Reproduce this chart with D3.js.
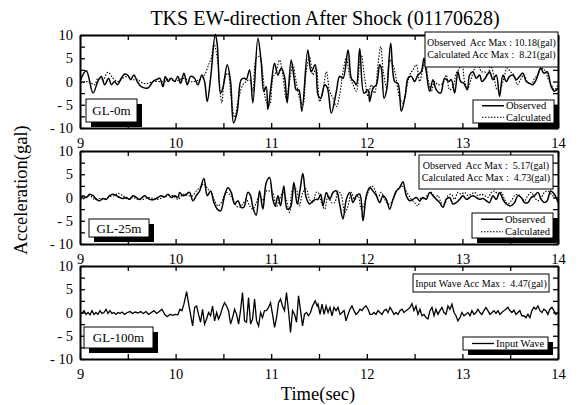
<!DOCTYPE html>
<html>
<head>
<meta charset="utf-8">
<script src="https://cdn.jsdelivr.net/npm/d3@7"></script>
<style>
  body { margin: 0; background: #fff; }
  svg { font-family: "Liberation Serif", "DejaVu Serif", serif; }
</style>
</head>
<body>
<div id="chart-area"></div>
<script>
// tick labels
const xTicks = [9, 10, 11, 12, 13, 14];
const yTicks = [-10, -5, 0, 5, 10];

// panel names and maxima
const depths = ["GL-0m", "GL-25m", "GL-100m"];
const obsMax = [10.18, 5.17];
const calMax = [8.21, 4.73];
const inputMax = 4.47;

// GL-0m observed [time(sec), acc(gal)]
const obs0 = [[9.000,0],[9.066,2.3],[9.136,-2.5],[9.188,0.1],[9.223,1.1],[9.258,-0.7],[9.300,0.7],[9.328,-0.7],[9.362,0],[9.390,-0.7],[9.432,0.7],[9.467,1.6],[9.502,1.3],[9.530,0.4],[9.564,1.4],[9.599,0],[9.641,-1.1],[9.711,-1.4],[9.763,0],[9.798,0.4],[9.833,0.7],[9.868,-1.1],[9.892,1.1],[9.920,0],[9.955,0.7],[9.990,0],[10.024,1.1],[10.052,-0.4],[10.087,1.8],[10.122,-0.7],[10.157,1.1],[10.199,0.7],[10.233,-0.7],[10.275,1.4],[10.303,0],[10.331,-4.3],[10.366,0.7],[10.415,10.18],[10.436,7.9],[10.470,-2.5],[10.495,-1.4],[10.540,3.6],[10.575,0],[10.606,-8.9],[10.645,-6.4],[10.686,0.4],[10.721,0.7],[10.739,0.4],[10.774,2.5],[10.808,-4.6],[10.861,9.3],[10.895,4.3],[10.923,-2.1],[10.948,-1.1],[10.965,-6.0],[11.000,-0.7],[11.035,3.9],[11.070,1.4],[11.105,2.9],[11.139,1.1],[11.167,-4.6],[11.209,4.6],[11.244,0],[11.261,-1.8],[11.289,-1.8],[11.321,-6.4],[11.383,6.8],[11.418,2.1],[11.460,3.6],[11.490,-2.9],[11.518,-3.6],[11.560,-0.7],[11.588,-1.4],[11.629,-6.8],[11.682,-2.1],[11.716,1.1],[11.751,0.7],[11.804,6.8],[11.838,0.7],[11.866,0],[11.891,-0.7],[11.926,7.1],[11.971,-2.5],[12.013,-1.8],[12.030,-4.3],[12.065,-1.4],[12.100,-0.7],[12.135,3.6],[12.152,2.9],[12.180,-3.6],[12.208,-1.8],[12.250,8.2],[12.291,0],[12.326,-0.4],[12.361,-6.4],[12.403,-2.9],[12.431,0.7],[12.466,1.1],[12.500,0],[12.535,1.4],[12.570,2.1],[12.598,5.0],[12.622,2.1],[12.657,-2.1],[12.692,0.4],[12.727,-1.8],[12.772,-2.5],[12.814,0.7],[12.856,0],[12.884,0.4],[12.919,-2.5],[12.953,2.1],[12.981,0],[13.016,-0.4],[13.051,-1.8],[13.075,1.4],[13.110,2.1],[13.145,0.7],[13.180,1.4],[13.204,0],[13.239,0.7],[13.284,2.1],[13.319,0.4],[13.354,1.4],[13.389,-3.2],[13.424,1.4],[13.459,0],[13.493,1.1],[13.528,1.4],[13.563,0.4],[13.598,1.1],[13.633,1.8],[13.668,0],[13.703,-0.4],[13.737,-0.7],[13.772,0.4],[13.818,2.9],[13.852,1.8],[13.887,2.1],[13.929,-1.1],[13.964,-2.1],[14.000,-1.4]];

// GL-0m calculated
const cal0 = [[9.000,-0.4],[9.084,0],[9.153,-0.7],[9.188,0.7],[9.240,0.4],[9.293,2.0],[9.345,0.7],[9.397,0],[9.449,0.7],[9.502,1.1],[9.554,0.4],[9.606,0.4],[9.659,-0.4],[9.711,-0.4],[9.763,0],[9.815,0],[9.885,0],[9.937,0.7],[9.990,0],[10.042,0.4],[10.094,0.7],[10.146,0],[10.199,0],[10.251,0.4],[10.303,1.4],[10.345,3.6],[10.373,5.0],[10.401,8.21],[10.436,5.0],[10.484,-4.6],[10.512,0.7],[10.547,1.8],[10.582,-3.6],[10.617,-7.7],[10.659,-3.6],[10.704,-0.7],[10.739,0],[10.774,0.4],[10.808,-2.1],[10.843,5.0],[10.878,5.4],[10.913,1.4],[10.948,-4.3],[10.983,-5.0],[11.017,0.7],[11.052,2.1],[11.087,4.6],[11.122,1.4],[11.157,-3.6],[11.192,0],[11.226,3.6],[11.261,0],[11.296,-3.6],[11.331,-5.0],[11.366,2.1],[11.401,5.4],[11.436,1.4],[11.470,2.9],[11.507,-4.3],[11.542,-1.8],[11.577,2.1],[11.612,-2.1],[11.647,-3.6],[11.682,-5.4],[11.716,-2.9],[11.751,2.1],[11.786,5.0],[11.821,1.1],[11.856,-0.7],[11.891,-2.1],[11.926,4.3],[11.943,5.7],[11.978,0.7],[12.013,-3.2],[12.047,-0.7],[12.082,-2.5],[12.117,3.6],[12.145,7.5],[12.173,2.1],[12.208,-1.4],[12.239,4.6],[12.274,3.6],[12.309,0.4],[12.344,-3.6],[12.379,-4.6],[12.413,-1.8],[12.448,1.4],[12.483,2.5],[12.518,3.6],[12.553,0],[12.588,2.9],[12.612,4.3],[12.640,0.7],[12.675,-2.1],[12.710,0],[12.744,-0.7],[12.797,-0.4],[12.831,1.4],[12.866,-1.8],[12.901,-1.1],[12.936,1.8],[12.971,2.9],[12.995,5.0],[13.023,0],[13.058,-1.4],[13.093,0.7],[13.128,2.9],[13.162,4.3],[13.197,2.1],[13.232,2.1],[13.267,1.4],[13.295,3.6],[13.330,1.1],[13.365,-1.8],[13.399,-1.4],[13.434,0.7],[13.469,2.9],[13.504,2.1],[13.539,1.4],[13.574,-0.7],[13.608,0.4],[13.643,1.4],[13.678,0],[13.720,-0.7],[13.755,0.7],[13.790,1.4],[13.824,2.9],[13.859,2.5],[13.894,0.7],[13.929,-0.7],[13.964,-1.8],[14.000,-0.7]];

// GL-25m observed
const obs25 = [[9.000,-0.2],[9.031,0.4],[9.066,0],[9.101,0.7],[9.136,0.4],[9.171,-0.4],[9.206,-0.7],[9.240,-0.2],[9.275,-0.4],[9.310,0.4],[9.345,0.7],[9.380,0.4],[9.415,0],[9.449,-0.2],[9.484,0],[9.519,-0.4],[9.554,0.4],[9.589,0],[9.624,-0.4],[9.676,0.4],[9.711,-0.2],[9.746,-0.5],[9.780,-0.4],[9.815,0],[9.850,0.4],[9.885,0.1],[9.920,0.7],[9.955,0],[9.990,0.4],[10.024,0],[10.042,1.1],[10.077,0.4],[10.111,0.7],[10.146,1.1],[10.181,-0.7],[10.216,0.4],[10.251,1.4],[10.296,4.1],[10.331,0.4],[10.366,1.4],[10.401,-1.1],[10.436,-2.5],[10.470,-2.9],[10.512,0.4],[10.547,2.1],[10.582,1.1],[10.617,-1.4],[10.652,-0.7],[10.686,-2.1],[10.714,-2.1],[10.756,1.1],[10.784,0.4],[10.808,-2.1],[10.843,-3.8],[10.878,1.4],[10.913,-2.5],[10.948,3.2],[10.983,4.3],[11.017,-0.4],[11.042,-1.8],[11.070,0.4],[11.098,-1.8],[11.132,2.5],[11.167,-2.5],[11.202,-2.1],[11.237,3.2],[11.272,-1.4],[11.303,1.8],[11.331,5.17],[11.366,0],[11.401,-1.4],[11.436,-0.7],[11.470,-0.4],[11.490,-0.4],[11.518,0.7],[11.542,-1.8],[11.577,1.1],[11.612,-0.4],[11.647,1.1],[11.682,1.4],[11.716,-1.4],[11.751,-4.6],[11.786,-0.4],[11.821,1.1],[11.856,-1.1],[11.891,0.4],[11.926,0.7],[11.960,-5.0],[11.995,0.4],[12.030,2.1],[12.065,1.4],[12.100,0.4],[12.135,-1.1],[12.169,0.4],[12.204,-0.4],[12.239,-2.5],[12.274,-0.4],[12.309,1.4],[12.344,2.1],[12.378,3.4],[12.413,0.4],[12.448,-0.7],[12.483,-0.4],[12.518,0],[12.553,-0.7],[12.588,0],[12.622,-0.4],[12.657,1.1],[12.692,0.4],[12.727,-0.4],[12.762,-1.1],[12.797,-2.1],[12.831,-0.4],[12.866,0],[12.901,-1.4],[12.936,-1.1],[12.971,-0.4],[13.006,0.4],[13.041,-0.4],[13.075,0],[13.110,0.4],[13.145,0],[13.180,-0.4],[13.215,-0.2],[13.250,-0.7],[13.284,-1.1],[13.319,0.4],[13.354,-0.4],[13.389,1.1],[13.424,-0.4],[13.459,-1.4],[13.504,-1.8],[13.546,-1.1],[13.581,0.4],[13.615,0],[13.650,-1.1],[13.685,-1.1],[13.720,0],[13.755,0.4],[13.790,1.1],[13.824,-0.4],[13.859,-1.1],[13.887,-0.7],[13.922,1.4],[13.946,1.1],[13.981,0],[14.000,-1.1]];

// GL-25m calculated
const cal25 = [[9.000,-0.4],[9.049,-0.2],[9.101,0.4],[9.153,-0.4],[9.206,-0.2],[9.258,-0.4],[9.310,0.2],[9.362,0.4],[9.397,0.9],[9.449,0.4],[9.502,-0.4],[9.554,0],[9.606,-0.4],[9.659,-0.4],[9.711,0],[9.763,-0.2],[9.815,-0.4],[9.868,0],[9.920,0.4],[9.972,0.4],[10.024,-0.4],[10.077,0.7],[10.129,0.4],[10.181,0.4],[10.216,1.4],[10.251,2.1],[10.296,2.9],[10.338,1.8],[10.373,1.1],[10.408,-0.7],[10.443,-1.8],[10.477,-1.1],[10.530,1.1],[10.564,0.7],[10.599,-0.4],[10.634,-1.8],[10.669,-2.1],[10.704,-1.4],[10.739,-0.4],[10.774,-1.8],[10.808,-2.5],[10.843,-1.1],[10.878,0.4],[10.913,-0.7],[10.948,1.4],[10.983,1.4],[11.017,1.1],[11.052,-2.1],[11.087,-0.4],[11.122,1.1],[11.157,-0.4],[11.192,-3.2],[11.226,1.8],[11.261,1.8],[11.296,-1.8],[11.331,1.1],[11.366,1.8],[11.401,-0.4],[11.436,-1.1],[11.470,1.1],[11.490,1.1],[11.525,-1.1],[11.560,-2.5],[11.595,0.4],[11.629,-1.1],[11.664,-1.1],[11.699,1.4],[11.734,0.4],[11.769,-3.2],[11.804,-1.8],[11.838,1.1],[11.873,-0.4],[11.908,0.4],[11.943,-2.5],[11.978,-1.1],[12.013,1.1],[12.047,2.5],[12.082,1.8],[12.117,0],[12.152,1.1],[12.187,-0.4],[12.222,-1.4],[12.257,-1.1],[12.291,0.4],[12.326,1.8],[12.361,2.5],[12.396,1.8],[12.431,0.7],[12.466,-0.4],[12.500,-1.1],[12.535,-1.8],[12.570,0],[12.605,-0.4],[12.640,0.7],[12.675,1.1],[12.710,0],[12.744,0.4],[12.779,-1.1],[12.814,-1.4],[12.849,0.4],[12.884,0.7],[12.919,-0.4],[12.953,1.1],[12.988,0.7],[13.023,1.1],[13.058,0.4],[13.093,0.7],[13.128,1.1],[13.162,0.4],[13.197,0.7],[13.232,0.4],[13.267,0],[13.302,1.1],[13.337,1.4],[13.372,0.7],[13.406,1.1],[13.441,-0.4],[13.476,-1.4],[13.511,-0.7],[13.546,0.4],[13.581,0.7],[13.615,0],[13.650,-0.7],[13.685,0.4],[13.720,1.1],[13.755,0],[13.790,-0.7],[13.824,0],[13.859,1.1],[13.894,1.4],[13.929,0.7],[13.964,0],[14.000,-0.7]];

// GL-100m input wave
const input100 = [[9.000,0],[9.021,-0.2],[9.042,0.4],[9.063,-0.4],[9.084,0],[9.105,-0.5],[9.125,0.4],[9.146,-0.4],[9.167,0],[9.188,-0.4],[9.209,0.4],[9.230,-0.2],[9.251,0],[9.272,0.7],[9.293,-0.2],[9.314,0.4],[9.334,-0.2],[9.355,0],[9.376,-0.4],[9.397,0],[9.418,-0.2],[9.439,0.1],[9.467,-0.4],[9.495,0],[9.523,0.2],[9.551,-0.2],[9.578,0.1],[9.606,-0.1],[9.634,0.2],[9.662,-0.2],[9.690,0.2],[9.718,-0.4],[9.746,0],[9.774,0.4],[9.801,-0.2],[9.829,0.2],[9.857,0.7],[9.885,-0.4],[9.913,-0.9],[9.941,-0.4],[9.969,-0.6],[9.997,-0.4],[10.024,-0.5],[10.045,0.7],[10.066,0.4],[10.087,1.8],[10.115,4.47],[10.143,1.1],[10.178,-2.9],[10.199,1.1],[10.220,1.4],[10.240,-0.4],[10.261,-2.1],[10.282,0.7],[10.303,-2.5],[10.324,-1.4],[10.345,0],[10.366,-0.7],[10.387,1.4],[10.408,-1.8],[10.429,0],[10.449,-1.4],[10.470,-0.4],[10.491,1.1],[10.512,2.1],[10.533,1.4],[10.554,0.4],[10.575,-2.5],[10.596,-1.1],[10.617,0.7],[10.638,-0.4],[10.659,-2.5],[10.679,0.4],[10.700,4.3],[10.721,-1.8],[10.742,-2.1],[10.763,3.2],[10.784,-2.5],[10.805,-1.4],[10.826,2.9],[10.847,-1.8],[10.868,-2.9],[10.889,0],[10.909,-1.1],[10.930,0.4],[10.951,0.4],[10.972,1.1],[10.993,2.1],[11.014,-0.4],[11.035,-3.2],[11.056,-1.1],[11.077,2.1],[11.098,2.9],[11.118,1.4],[11.139,0.4],[11.160,4.3],[11.181,0.4],[11.202,-4.3],[11.223,0.4],[11.244,-0.4],[11.265,-2.1],[11.286,3.6],[11.307,0.4],[11.328,-2.9],[11.348,-0.4],[11.369,0],[11.390,-0.7],[11.411,0],[11.432,1.4],[11.460,2.5],[11.481,1.4],[11.490,1.8],[11.511,-0.4],[11.532,1.8],[11.553,-0.4],[11.574,1.4],[11.595,0],[11.615,1.1],[11.636,-0.7],[11.657,1.1],[11.678,0.4],[11.699,1.1],[11.720,-0.4],[11.741,0],[11.762,0.4],[11.783,-1.8],[11.804,-0.4],[11.824,0.7],[11.845,1.4],[11.866,0.4],[11.887,-0.4],[11.908,0],[11.929,0.7],[11.950,0.4],[11.971,1.1],[11.992,1.4],[12.013,0.7],[12.034,-0.4],[12.054,-0.4],[12.075,0],[12.096,-0.4],[12.117,0.4],[12.138,0],[12.159,-0.4],[12.180,0.4],[12.201,0.7],[12.222,0],[12.243,1.1],[12.264,0.4],[12.284,-0.4],[12.305,0],[12.326,-0.4],[12.347,0.4],[12.368,0.7],[12.389,0],[12.410,0.4],[12.431,0.7],[12.452,1.1],[12.473,1.9],[12.493,0.4],[12.514,1.4],[12.535,-0.4],[12.556,0.7],[12.577,-0.7],[12.598,-0.4],[12.619,-1.1],[12.640,-1.4],[12.661,0.4],[12.682,1.1],[12.703,-0.7],[12.723,0.7],[12.744,-0.4],[12.765,0.4],[12.786,1.1],[12.807,0],[12.828,-0.4],[12.849,1.4],[12.870,0.7],[12.891,1.8],[12.912,0],[12.933,-0.7],[12.953,-1.8],[12.974,-1.1],[12.995,0],[13.016,-0.7],[13.037,-0.4],[13.058,0],[13.079,-0.7],[13.100,0.4],[13.121,-0.4],[13.142,0],[13.162,0.7],[13.183,0],[13.204,-0.4],[13.225,0.4],[13.246,1.1],[13.267,0.4],[13.288,-0.4],[13.309,0],[13.330,0.4],[13.351,-0.2],[13.372,0.4],[13.392,-0.4],[13.413,0],[13.434,0.4],[13.455,0.7],[13.476,1.1],[13.497,0.4],[13.518,0],[13.539,0.5],[13.560,-0.4],[13.581,0],[13.601,0.4],[13.622,-0.7],[13.643,-0.7],[13.664,-1.1],[13.685,-0.4],[13.706,-1.1],[13.727,0.4],[13.748,1.1],[13.769,0.7],[13.790,1.4],[13.811,0.4],[13.832,0],[13.852,0.7],[13.873,0.4],[13.894,-0.4],[13.915,0.7],[13.936,1.1],[13.957,0.4],[13.978,-0.4],[14.000,0]];

const W = 578, H = 405;
const left = 80, right = 558, panelH = 93;
const tops = [35, 151, 266];

const svg = d3.select("#chart-area")
  .append("svg")
    .attr("width", W)
    .attr("height", H);

const x = d3.scaleLinear().domain([9, 14]).range([left, right]);
const halfTicks = d3.range(9, 14.01, 0.5);
const quarterTicks = d3.range(-10, 10.01, 2.5);

const fmtY = d => (d < 0 ? "- " + Math.abs(d) : String(d));

// title and axis labels
svg.append("text")
  .attr("x", 325).attr("y", 25)
  .attr("text-anchor", "middle")
  .attr("font-size", "20px")
  .text("TKS EW-direction After Shock (01170628)");

svg.append("text")
  .attr("transform", "translate(27,190) rotate(-90)")
  .attr("text-anchor", "middle")
  .attr("font-size", "18.5px")
  .text("Acceleration(gal)");

svg.append("text")
  .attr("x", 318).attr("y", 400)
  .attr("text-anchor", "middle")
  .attr("font-size", "18.5px")
  .text("Time(sec)");

const panels = [
  { series: [{ d: obs0, dash: null, w: 1.5 }, { d: cal0, dash: "1.5,1.5", w: 1.1 }], curve: d3.curveCatmullRom,
    info: ["Observed  Acc Max : " + obsMax[0].toFixed(2) + "(gal)", "Calculated Acc Max :  " + calMax[0].toFixed(2) + "(gal)"],
    infoBox: [425, 32, 133, 35], gl: [86, 99, 51, 23], leg: [473, 100, 81, 23] },
  { series: [{ d: obs25, dash: null, w: 1.5 }, { d: cal25, dash: "1.5,1.5", w: 1.1 }], curve: d3.curveCatmullRom,
    info: ["Observed  Acc Max :  " + obsMax[1].toFixed(2) + "(gal)", "Calculated Acc Max :  " + calMax[1].toFixed(2) + "(gal)"],
    infoBox: [419, 155, 134, 34], gl: [89, 219, 60, 18], leg: [472, 213, 81, 25] },
  { series: [{ d: input100, dash: null, w: 1.3 }], curve: d3.curveLinear,
    info: ["Input Wave Acc Max :  " + inputMax.toFixed(2) + "(gal)"],
    infoBox: [413, 274, 136, 18], gl: [84, 327, 69, 21], leg: [463, 337, 85, 13] }
];
const legNames = [["Observed", "Calculated"], ["Observed", "Calculated"], ["Input Wave"]];

panels.forEach((p, i) => {
  const top = tops[i], bottom = top + panelH;
  const y = d3.scaleLinear().domain([-10, 10]).range([bottom, top]);
  const g = svg.append("g").attr("class", "panel");

  g.append("clipPath").attr("id", "clip" + i)
    .append("rect").attr("x", left).attr("y", top - 2).attr("width", right - left).attr("height", panelH + 4);

  const line = d3.line().x(d => x(d[0])).y(d => y(d[1])).curve(p.curve);
  p.series.forEach(s => {
    g.append("path")
      .datum(s.d)
      .attr("clip-path", "url(#clip" + i + ")")
      .attr("fill", "none")
      .attr("stroke", "#000")
      .attr("stroke-width", s.w)
      .attr("stroke-dasharray", s.dash)
      .attr("d", line);
  });

  // axes (ticks inward)
  const axB = g.append("g").attr("transform", "translate(0," + bottom + ")")
    .call(d3.axisBottom(x).tickValues(halfTicks).tickSizeInner(-5).tickSizeOuter(0).tickPadding(10)
      .tickFormat(d => xTicks.includes(d) ? String(d) : ""));
  const axT = g.append("g").attr("transform", "translate(0," + top + ")")
    .call(d3.axisTop(x).tickValues(halfTicks).tickSizeInner(-5).tickSizeOuter(0).tickFormat(""));
  const axL = g.append("g").attr("transform", "translate(" + left + ",0)")
    .call(d3.axisLeft(y).tickValues(quarterTicks).tickSizeInner(-5).tickSizeOuter(0).tickPadding(7)
      .tickFormat(d => yTicks.includes(d) ? fmtY(d) : ""));
  const axR = g.append("g").attr("transform", "translate(" + right + ",0)")
    .call(d3.axisRight(y).tickValues(quarterTicks).tickSizeInner(-5).tickSizeOuter(0).tickFormat(""));

  [axB, axT, axL, axR].forEach(a => {
    a.select(".domain").attr("stroke-width", 2);
    a.selectAll(".tick line").attr("stroke-width", 1.3);
    a.selectAll("text").attr("font-family", "Liberation Serif").attr("font-size", "14.5px").attr("fill", "#000");
  });

  // acc max box
  const ib = p.infoBox;
  g.append("rect").attr("x", ib[0]).attr("y", ib[1]).attr("width", ib[2]).attr("height", ib[3])
    .attr("fill", "#fff").attr("stroke", "#000").attr("stroke-width", 1);
  p.info.forEach((t, k) => {
    g.append("text")
      .attr("x", ib[0] + ib[2] / 2)
      .attr("y", p.info.length === 1 ? ib[1] + 12.5 : ib[1] + 14 + k * 11.5)
      .attr("text-anchor", "middle")
      .attr("font-size", "10px")
      .attr("xml:space", "preserve")
      .style("white-space", "pre")
      .text(t);
  });

  // depth label with shadow
  const gl = p.gl;
  g.append("rect").attr("x", gl[0] + 5).attr("y", gl[1] + 5).attr("width", gl[2]).attr("height", gl[3]).attr("fill", "#000");
  g.append("rect").attr("x", gl[0]).attr("y", gl[1]).attr("width", gl[2]).attr("height", gl[3])
    .attr("fill", "#fff").attr("stroke", "#000").attr("stroke-width", 1);
  g.append("text").attr("x", gl[0] + gl[2] / 2).attr("y", gl[1] + gl[3] / 2 + 4.5)
    .attr("text-anchor", "middle").attr("font-size", "13px").text(depths[i]);

  // legend with shadow
  const lg = p.leg;
  g.append("rect").attr("x", lg[0] + 5).attr("y", lg[1] + 5).attr("width", lg[2]).attr("height", lg[3]).attr("fill", "#000");
  g.append("rect").attr("x", lg[0]).attr("y", lg[1]).attr("width", lg[2]).attr("height", lg[3])
    .attr("fill", "#fff").attr("stroke", "#000").attr("stroke-width", 1);
  const rowH = lg[3] / legNames[i].length;
  legNames[i].forEach((name, k) => {
    const cy = lg[1] + rowH * (k + 0.5);
    const s = p.series[k];
    g.append("line").attr("x1", lg[0] + 9).attr("x2", lg[0] + 31).attr("y1", cy).attr("y2", cy)
      .attr("stroke", "#000").attr("stroke-width", s.w).attr("stroke-dasharray", s.dash);
    g.append("text").attr("x", lg[0] + 33).attr("y", cy + 3.5).attr("font-size", "10.5px").text(name);
  });
});
</script>
</body>
</html>
